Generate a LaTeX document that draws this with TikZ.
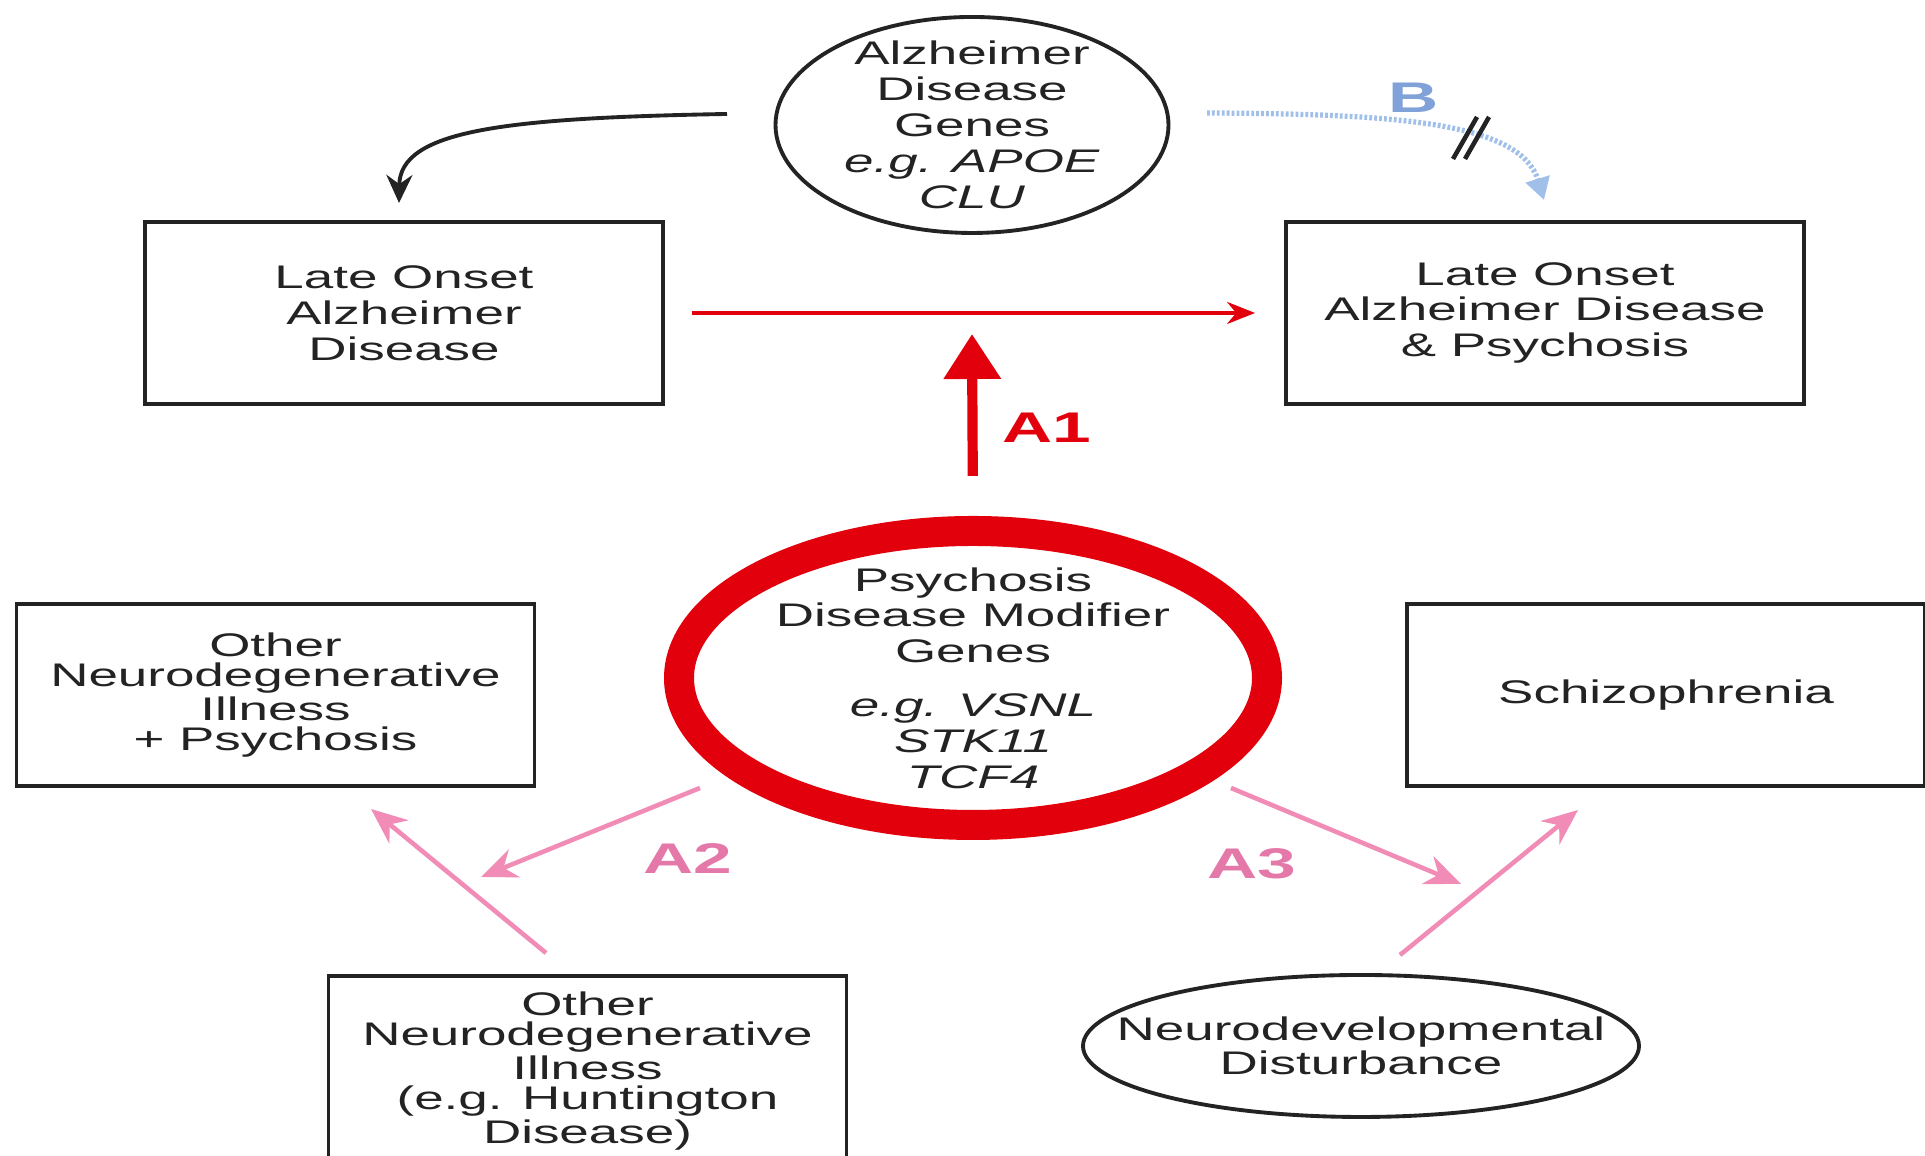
\documentclass[tikz,border=0pt]{standalone}
\usepackage{fontspec}
\setmainfont{Liberation Sans}[FakeStretch=1.62]
\usetikzlibrary{shapes.geometric,arrows.meta,positioning,calc}
\definecolor{psyRed}{RGB}{226,0,12}
\definecolor{psyPink}{RGB}{240,140,182}
\definecolor{psyPinkDark}{RGB}{228,120,168}
\definecolor{psyBlue}{RGB}{160,192,234}
\definecolor{psyBlueDark}{RGB}{128,162,216}
\definecolor{psyInk}{RGB}{35,35,35}
\tikzset{
  dbox/.style={
    rectangle, draw=psyInk, line width=1.1pt,
    minimum width=5.18cm, minimum height=#1,
    align=center, text=psyInk,
    font=\fontsize{9.3}{10.2}\selectfont
  },
  dbox/.default=1.82cm,
  dell/.style={
    ellipse, draw=psyInk, line width=1.1pt, inner sep=0pt,
    align=center, text=psyInk,
    font=\fontsize{9.3}{10.2}\selectfont
  },
  alab/.style={font=\fontsize{12.2}{14}\selectfont\bfseries, text=#1},
  redarr/.style={-{Stealth[length=0.28cm,width=0.22cm]}, line width=1pt, psyRed},
  bigarr/.style={-{Triangle[length=0.45cm,width=0.55cm]}, line width=2.9pt, psyRed},
  pinkarr/.style={-{Stealth[length=0.36cm,width=0.3cm]}, line width=1.3pt, psyPink},
  blkarr/.style={-{Stealth[length=0.28cm,width=0.26cm]}, line width=1.1pt, psyInk},
  bluearr/.style={-{Triangle[length=0.22cm,width=0.24cm]}, line width=1.5pt,
    dash pattern=on 0.8pt off 0.6pt, psyBlue},
}
\begin{document}
\begin{tikzpicture}
  \useasboundingbox (0,0) rectangle (19.25,11.56);

  % Row 1 — AD genes
  \node[dell, inner xsep=-0.3cm, inner ysep=-0.3cm,
        minimum width=3.93cm, minimum height=2.16cm] (gen) at (9.72,10.31)
    {Alzheimer\\Disease\\Genes\\\textit{e.g. APOE}\\\textit{CLU}};

  % Row 2 — late onset AD
  \node[dbox] (lad)  at (4.04,8.43)  {Late Onset\\Alzheimer\\Disease};
  \node[dbox] (ladp) at (15.45,8.43) {Late Onset\\Alzheimer Disease\\\& Psychosis};

  % Row 3 — modifier genes
  \node[ellipse, draw=psyRed, line width=0.3cm, inner sep=-0.2cm,
        minimum width=5.88cm, minimum height=2.94cm,
        align=center, text=psyInk, font=\fontsize{9.3}{10.2}\selectfont] (psy) at (9.73,4.78)
    {Psychosis\\Disease Modifier\\Genes\\[0.18cm]
     \textit{e.g. VSNL}\\\textit{STK11}\\\textit{TCF4}};
  \node[dbox, font=\fontsize{9.3}{8.6}\selectfont] (ondp) at (2.755,4.61)
    {Other\\Neurodegenerative\\Illness\\+ Psychosis};
  \node[dbox] (scz) at (16.66,4.61) {Schizophrenia};

  % Row 4 — other causes
  \node[dbox=1.90cm, font=\fontsize{9.3}{8.5}\selectfont] (ond) at (5.875,0.85)
    {Other\\Neurodegenerative\\Illness\\(e.g. Huntington\\Disease)};
  \node[dell, inner xsep=-0.5cm, minimum width=5.56cm, minimum height=1.42cm,
        font=\fontsize{9.3}{8.4}\selectfont] (ndd) at (13.61,1.10)
    {Neurodevelopmental\\Disturbance};

  % free arrow ends
  \coordinate (ks)  at (7.27,10.42);
  \coordinate (ke)  at (3.99,9.53);
  \coordinate (bs)  at (12.07,10.43);
  \coordinate (be)  at (15.44,9.56);
  \coordinate (brk) at (14.70,10.18);
  \coordinate (a1e) at (9.72,8.22);
  \coordinate (a2s) at (7.00,3.68);
  \coordinate (a2e) at (4.81,2.79);
  \coordinate (o2s) at (5.46,2.03);
  \coordinate (o2e) at (3.71,3.47);
  \coordinate (a3s) at (12.31,3.68);
  \coordinate (a3e) at (14.61,2.72);
  \coordinate (n2s) at (14.00,2.01);
  \coordinate (n2e) at (15.78,3.46);

  % Arrows
  \draw[blkarr]  (ks) .. controls (5.0,10.38) and (4.0,10.25) .. (ke);
  \draw[bluearr] (bs) .. controls (13.9,10.42) and (15.2,10.35) .. (be);
  \draw[psyInk, line width=1.3pt] ($(brk)+(-0.17,-0.21)$) -- ($(brk)+(0.07,0.21)$)
                                 ($(brk)+(-0.05,-0.21)$) -- ($(brk)+(0.19,0.21)$);
  \draw[redarr, shorten <=0.27cm, shorten >=0.29cm] (lad) -- (ladp);
  \draw[bigarr, shorten <=0.40cm] (psy.north) -- (a1e);
  \draw[pinkarr] (a2s) -- (a2e);
  \draw[pinkarr] (o2s) -- (o2e);
  \draw[pinkarr] (a3s) -- (a3e);
  \draw[pinkarr] (n2s) -- (n2e);

  % Labels
  \node[alab=psyBlueDark] (lb)  at (14.14,10.58) {B};
  \node[alab=psyRed]      (la1) at (10.47,7.28)  {A1};
  \node[alab=psyPinkDark] (la2) at (6.88,2.97)   {A2};
  \node[alab=psyPinkDark] (la3) at (12.52,2.92)  {A3};
\end{tikzpicture}
\end{document}
